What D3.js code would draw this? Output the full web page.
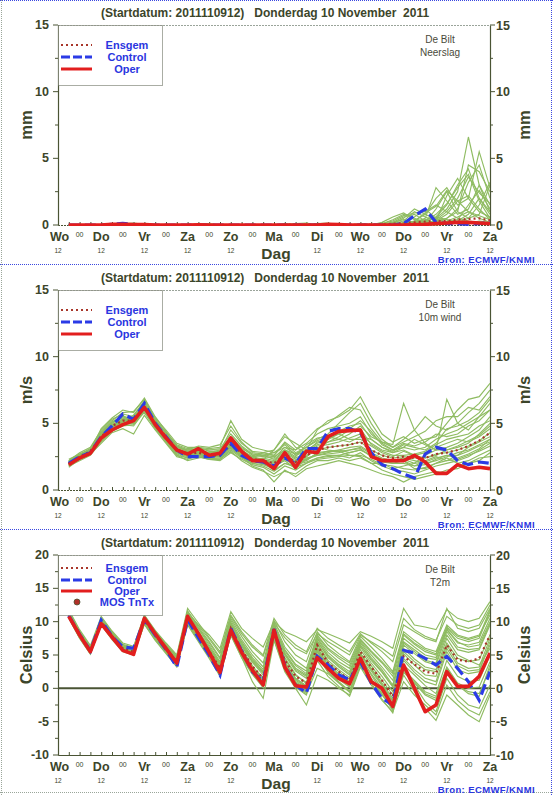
<!DOCTYPE html>
<html><head><meta charset="utf-8">
<script src="https://cdn.jsdelivr.net/npm/d3@7"></script>
<style>body{margin:0;background:#fff}svg{display:block}text{font-family:"Liberation Sans",Arial,sans-serif}</style>
</head><body><svg id="c" width="554" height="795"></svg>
<script>
// ---------- data ----------
const leadHours = [6,12,18,24,30,36,42,48,54,60,66,72,78,84,90,96,102,108,114,120,126,132,138,144,150,156,162,168,174,180,186,192,198,204,210,216,222,228,234,240];
const dayLabels = ["Wo","Do","Vr","Za","Zo","Ma","Di","Wo","Do","Vr","Za"];
const dayHours = [0,24,48,72,96,120,144,168,192,216,240];
const midnightHours = [12,36,60,84,108,132,156,180,204,228];
const titleText = "(Startdatum: 2011110912)   Donderdag 10 November  2011";

const precipTicks = [0,5,10,15];
const windTicks = [0,5,10,15];
const tempTicks = [-10,-5,0,5,10,15,20];

const precipOper = [0,0,0,0,0.05,0.05,0.03,0.03,0,0,0,0,0.02,0,0,0,0,0,0,0,0,0,0,0,0.05,0.03,0,0,0,0,0,0,0.03,0.05,0.1,0.15,0.2,0.2,0.15,0.1];
const precipControl = [0,0,0,0,0.05,0.12,0.05,0,0,0,0,0,0,0,0,0,0,0,0,0,0,0,0,0,0,0,0,0,0,0,0,0.1,0.7,1.2,0.2,0.1,0.1,0.05,0.1,0.2];
const precipMean = [0,0,0,0,0.05,0.05,0.03,0.02,0,0,0,0,0.02,0,0,0,0,0,0,0,0.02,0.03,0.03,0.02,0.03,0.03,0.02,0.02,0.03,0.05,0.1,0.15,0.2,0.25,0.3,0.3,0.4,0.45,0.5,0.35];
const precipMembers = [
 [0,0,0,0,0.1,0.1,0,0,0,0,0,0,0,0,0,0,0,0,0,0,0,0,0,0,0,0,0,0,0,0,0.2,0.6,0.8,0.3,0.5,1.2,2.5,6.6,3.0,1.0],
 [0,0,0,0,0,0.05,0.1,0,0,0,0,0,0,0,0,0,0,0,0,0,0,0,0,0,0,0.1,0,0,0,0,0,0.1,0.3,0.8,2.0,2.8,1.5,2.0,5.5,2.8],
 [0,0,0,0,0,0,0,0,0,0,0,0,0,0,0,0,0,0,0,0,0,0.1,0.15,0,0,0,0,0,0,0.1,0.4,0.8,0.5,0.2,0.6,1.5,3.0,4.2,2.0,0.8],
 [0,0,0,0,0.05,0.1,0.05,0,0,0,0,0,0,0,0,0,0,0,0,0,0,0,0,0,0,0,0,0,0,0,0,0,0.2,0.5,2.8,1.8,0.8,1.2,3.0,1.5],
 [0,0,0,0,0,0,0,0,0,0,0,0,0.05,0.1,0,0,0,0,0,0,0,0,0,0,0,0,0,0,0,0,0.1,0.3,1.0,0.6,0.3,0.5,1.0,4.5,4.0,2.5],
 [0,0,0,0,0,0,0,0,0,0,0,0,0,0,0,0,0,0,0,0,0,0,0,0,0.1,0.1,0,0,0,0,0,0,0,0.1,0.3,0.8,1.8,2.2,1.2,0.4],
 [0,0,0,0,0,0.1,0.15,0.05,0,0,0,0,0,0,0,0,0,0,0,0,0,0,0,0,0,0,0,0,0,0.2,0.6,0.9,0.4,0.2,1.2,2.5,1.0,0.5,1.5,3.2],
 [0,0,0,0,0,0,0,0,0,0,0,0,0,0,0,0,0,0,0,0,0.1,0.05,0,0,0,0,0,0,0,0,0,0.2,0.6,1.2,0.5,0.2,0.3,0.8,2.0,1.0],
 [0,0,0,0,0,0,0,0,0,0,0,0,0,0,0,0,0,0,0,0,0,0,0,0,0,0,0,0.1,0.05,0,0,0,0.1,0.3,0.8,1.6,2.8,3.8,1.8,0.5],
 [0,0,0,0,0.05,0.05,0,0,0,0,0,0,0,0,0,0,0,0,0,0,0,0,0,0,0,0,0,0,0,0,0.2,0.4,0.2,0,0.1,0.3,0.6,1.0,0.5,0.2],
 [0,0,0,0,0,0,0,0,0,0,0,0,0,0,0,0,0,0,0,0,0,0,0,0,0,0,0,0,0,0,0,0,0,0,0.2,0.5,1.2,3.2,4.5,2.0],
 [0,0,0,0,0,0,0,0,0,0,0,0,0,0,0,0,0,0,0,0,0,0,0,0.1,0.15,0,0,0,0,0.1,0.3,0.7,0.9,1.0,1.5,1.0,0.5,0.3,0.2,0.1],
 [0,0,0,0,0,0,0,0,0,0,0,0,0,0,0,0,0,0,0,0,0,0,0,0,0,0,0,0,0,0,0,0,0.1,0.2,0.3,2.2,3.5,2.0,1.0,0.6],
 [0,0,0,0,0,0,0,0,0,0,0,0,0,0,0,0,0,0,0,0,0,0,0,0,0,0,0,0,0,0,0,0.1,0.2,0.4,0.6,0.4,0.2,0.5,0.8,3.0],
 [0,0,0,0,0,0,0,0,0,0,0,0,0,0,0,0,0,0,0,0,0,0,0,0,0,0,0,0,0,0,0,0,0,0,0,0.1,0.2,0.1,0.3,0.2],
 [0,0,0,0,0,0,0,0,0,0,0,0,0,0,0,0,0,0,0,0,0,0,0,0,0,0,0,0,0,0,0.1,0.5,1.2,0.8,0.4,0.2,0.4,1.5,2.6,1.2],
 [0,0,0,0,0,0,0,0,0,0,0,0,0,0,0,0,0,0,0,0,0,0,0,0,0,0,0,0,0,0,0,0,0.3,0.9,1.4,2.6,1.8,1.0,0.7,0.4],
 [0,0,0,0,0,0,0,0,0,0,0,0,0,0,0,0,0,0,0,0,0,0,0,0,0,0,0,0,0,0,0,0,0,0.1,0.4,1.0,2.0,3.6,2.4,1.6]
];

const windOper = [1.9,2.4,2.75,3.9,4.5,4.9,5.2,6.2,4.9,3.9,3.0,2.7,3.1,2.6,2.75,3.9,2.9,2.2,2.2,1.6,2.8,1.7,2.9,2.8,4.0,4.4,4.45,4.5,2.5,2.2,2.2,2.2,2.6,2.1,1.25,1.25,1.9,1.6,1.7,1.6];
const windControl = [2.0,2.5,2.8,4.0,4.8,5.7,5.3,6.5,5.0,4.0,3.0,2.5,2.5,2.5,2.6,3.5,2.6,2.2,2.1,1.8,2.4,2.0,3.1,3.1,4.4,4.6,4.6,4.3,2.8,1.9,1.6,1.2,0.9,2.7,3.2,3.0,2.2,1.9,2.1,2.0];
const windMean = [2.0,2.5,2.9,4.0,4.8,5.2,5.2,6.2,5.0,4.0,3.0,2.7,2.8,2.6,2.6,3.4,2.8,2.3,2.2,2.0,2.6,2.1,2.6,3.0,3.2,3.3,3.4,3.6,3.0,2.6,2.4,2.5,2.4,2.4,2.7,2.8,3.0,3.3,3.7,4.3];
const windMembers = [
 [1.9,2.4,2.8,3.8,4.6,5.0,5.4,6.5,5.2,4.2,3.2,3.0,3.1,3.0,3.0,4.0,3.2,2.6,2.5,2.4,3.2,3.0,3.5,4.2,4.6,4.8,5.0,5.5,4.2,3.5,3.0,3.2,3.0,3.2,3.8,4.2,4.5,5.0,5.5,6.0],
 [2.1,2.6,3.0,4.2,5.0,5.6,5.0,6.0,4.7,3.7,2.7,2.4,2.5,2.3,2.2,2.8,2.3,1.9,1.7,1.2,1.8,1.5,2.0,2.4,2.5,2.6,2.4,2.8,2.2,1.8,1.5,1.4,1.2,1.5,1.8,2.0,2.2,2.5,3.0,3.5],
 [1.8,2.3,2.7,3.5,4.3,4.6,4.2,5.6,4.5,3.5,2.5,2.3,2.6,2.8,3.0,3.6,3.0,2.4,2.8,2.6,3.5,2.8,3.2,3.8,4.2,5.0,5.8,6.5,5.0,3.8,3.2,3.8,4.5,5.5,4.8,4.5,5.0,5.8,6.5,7.5],
 [2.2,2.7,3.1,4.4,5.2,5.8,5.9,6.8,5.4,4.5,3.5,3.2,3.2,2.9,2.8,3.7,2.9,2.2,2.0,1.8,2.2,1.6,2.4,2.6,2.8,3.0,2.8,3.0,2.6,2.2,2.0,2.0,1.8,2.2,2.5,2.2,2.6,3.2,3.6,4.0],
 [2.0,2.5,3.0,4.0,4.9,5.3,5.3,6.3,4.9,3.9,2.9,2.6,2.9,2.7,2.5,3.2,2.6,2.3,2.4,2.2,2.9,2.4,2.8,3.3,3.4,3.6,3.9,4.2,3.5,3.0,2.8,3.0,2.6,2.8,3.2,3.5,3.8,3.6,4.0,4.6],
 [1.9,2.5,2.9,4.1,4.7,5.1,5.6,6.6,5.1,3.8,2.8,2.5,2.7,2.5,2.6,3.5,2.5,1.8,1.5,0.6,1.5,1.0,1.6,1.8,2.0,2.2,2.0,1.8,1.5,1.2,1.0,0.6,1.0,1.2,1.4,1.2,1.8,2.0,2.4,2.5],
 [2.0,2.6,3.1,3.9,4.5,4.9,4.8,5.9,4.8,4.1,3.3,2.9,3.0,2.8,2.9,4.5,3.5,2.9,2.8,3.0,4.0,3.5,3.0,4.5,5.2,5.5,6.0,7.0,5.5,4.2,3.6,4.0,3.5,3.8,4.0,5.0,6.0,6.8,7.0,8.0],
 [2.1,2.4,2.8,4.3,5.1,5.5,5.1,6.1,5.0,3.9,3.1,2.8,2.6,2.4,2.4,3.0,2.4,2.0,1.9,1.6,2.4,2.0,2.2,2.8,2.9,3.0,3.2,3.3,2.8,2.4,2.2,2.4,2.2,2.0,2.2,2.5,2.8,3.0,3.4,3.8],
 [1.8,2.2,2.6,3.6,4.4,4.8,4.9,6.0,5.2,4.3,3.4,3.1,3.2,3.1,3.2,5.2,3.8,3.2,3.0,2.8,3.4,2.6,2.9,3.4,3.6,3.8,4.2,4.8,4.0,3.6,3.4,6.5,4.5,3.5,3.0,3.2,3.5,4.0,4.5,5.5],
 [2.2,2.8,3.2,4.5,5.3,5.7,5.5,6.4,5.1,4.0,2.9,2.6,2.7,2.4,2.3,3.1,2.5,2.0,1.8,1.4,2.0,1.8,2.5,3.2,3.0,2.9,2.6,2.5,2.0,2.0,1.6,1.8,2.0,2.6,3.0,3.0,3.2,3.5,4.2,5.0],
 [2.0,2.5,2.9,4.0,4.8,5.2,5.2,6.2,5.0,4.0,3.0,2.7,2.8,2.6,2.6,3.4,2.8,2.3,2.2,2.0,2.6,2.1,2.6,3.0,3.2,3.3,3.4,3.6,3.0,2.6,2.4,2.5,2.4,2.4,2.7,2.8,3.0,3.3,3.7,4.3],
 [1.7,2.3,2.8,3.7,4.5,4.9,5.0,6.1,4.6,3.6,2.6,2.2,2.4,2.5,2.7,3.6,3.1,2.7,2.6,2.5,3.0,2.5,3.4,3.9,4.0,3.8,3.6,4.0,3.8,3.2,2.8,3.2,3.8,3.4,3.0,6.8,5.0,4.5,5.5,6.5],
 [2.3,2.7,3.0,4.6,5.4,6.0,5.8,6.9,5.5,4.4,3.3,3.0,3.0,2.7,2.5,3.3,2.7,2.2,2.3,1.9,2.6,2.2,2.3,2.6,2.7,2.8,3.0,3.1,2.5,2.1,2.0,2.2,1.6,1.6,2.0,2.4,2.0,2.2,2.6,3.0],
 [1.9,2.4,2.9,3.9,4.7,5.1,5.1,6.2,4.9,3.9,3.0,2.6,2.8,2.6,2.7,3.8,3.0,2.5,2.3,2.1,2.8,2.3,2.5,3.1,3.6,4.0,4.5,4.6,3.4,2.9,2.6,2.6,2.7,2.9,3.4,3.8,4.0,4.2,4.8,5.2],
 [2.0,2.6,2.9,4.1,4.9,5.2,5.3,6.3,5.0,4.1,3.1,2.8,2.9,2.7,2.6,3.4,2.7,2.4,2.1,2.1,2.4,1.9,2.1,2.4,2.6,2.6,2.8,3.0,2.6,2.3,2.2,2.2,1.8,1.9,2.3,2.6,2.4,2.7,3.1,3.8],
 [2.1,2.5,2.9,4.0,4.8,5.3,5.2,6.2,5.1,4.0,3.0,2.7,2.8,2.6,2.6,3.4,2.8,2.4,2.3,3.0,4.2,3.2,2.8,3.6,3.8,4.2,3.8,3.8,3.3,2.8,2.5,2.9,2.6,2.4,2.6,3.0,3.3,3.7,4.1,4.8],
 [2.0,2.4,2.8,3.9,4.6,5.1,5.6,6.7,5.3,4.3,3.3,3.0,3.3,3.2,3.4,4.8,3.6,2.8,2.7,2.6,3.6,3.0,3.8,4.6,5.0,5.6,6.2,6.0,4.6,3.6,3.2,3.6,4.0,4.4,5.2,5.5,5.5,6.2,6.0,7.0],
 [2.1,2.6,3.0,4.2,5.0,5.4,5.0,5.8,4.6,3.6,2.6,2.4,2.5,2.3,2.3,2.9,2.2,1.7,1.4,1.0,1.4,1.2,1.8,2.2,2.2,2.4,2.2,2.4,2.0,1.5,1.2,1.0,0.8,1.0,1.2,1.5,1.6,2.0,2.2,2.8],
 [1.9,2.5,2.9,4.0,4.8,5.2,5.3,6.3,5.1,4.1,3.1,2.8,2.9,2.8,2.8,3.6,2.9,2.5,2.6,2.8,3.2,2.7,3.0,3.5,3.8,4.4,4.8,5.0,3.8,3.2,2.9,3.4,3.2,3.0,3.5,4.6,4.8,5.2,5.8,6.8],
 [2.0,2.5,2.8,4.1,4.9,5.3,5.4,6.4,5.0,4.0,2.9,2.6,2.7,2.5,2.5,3.3,2.6,2.2,2.0,1.7,2.3,1.8,2.3,2.7,2.9,2.9,3.0,3.2,2.7,2.3,2.1,2.3,2.0,2.1,2.4,2.6,2.6,2.9,3.3,3.6],
 [2.2,2.6,3.1,4.3,5.1,5.5,5.4,6.2,5.3,4.2,3.2,2.9,3.1,3.0,3.1,4.2,3.3,2.7,2.6,2.3,3.0,2.7,3.2,3.7,4.0,4.2,4.6,5.2,4.4,3.4,3.0,3.5,3.3,3.6,4.2,4.0,4.2,4.8,5.2,6.0],
 [1.8,2.3,2.7,3.8,4.6,5.0,5.0,6.0,4.8,3.8,2.8,2.5,2.6,2.4,2.4,3.2,2.5,2.1,2.0,1.5,2.0,1.7,2.0,2.3,2.4,2.5,2.6,2.6,2.3,1.9,1.8,1.6,1.5,1.7,2.0,2.2,2.3,2.6,2.9,3.3]
];

const tempOper = [10.8,8.0,5.5,9.7,7.7,5.7,5.1,10.5,8.2,6.0,3.8,10.8,8.2,5.4,2.4,8.7,5.4,2.7,0.5,8.7,3.2,0.4,0.2,4.6,3.0,1.5,0.7,4.5,1.0,0.0,-2.7,3.5,0.0,-3.5,-2.5,2.5,0.3,0.3,1.8,5.3];
const tempControl = [10.9,8.1,5.6,10.2,7.8,6.2,6.0,10.3,8.0,5.8,3.2,10.3,7.6,5.0,2.0,9.0,5.6,2.5,1.0,8.9,3.4,0.5,-0.7,4.8,3.5,2.0,1.3,4.0,0.8,-1.5,-2.5,5.7,5.3,4.5,3.5,4.8,3.0,1.0,-1.8,2.5];
const tempMean = [11.0,8.0,5.7,10.0,7.8,6.0,5.5,10.3,8.0,6.0,4.0,10.5,8.0,5.6,3.0,9.0,5.8,3.3,1.5,8.5,4.2,1.8,0.8,6.5,3.8,2.5,1.2,5.5,3.2,1.2,-1.2,4.8,3.6,2.5,2.2,6.5,4.3,4.0,4.5,8.0];
const tempMembers = [
 [11.2,8.3,5.9,10.2,8.0,6.2,5.8,10.6,8.3,6.3,4.3,10.9,8.4,6.0,3.5,9.6,6.3,3.9,2.0,9.2,5.0,2.6,1.5,7.5,5.0,3.6,2.5,6.8,4.6,2.8,0.5,7.0,5.8,4.6,4.3,8.8,6.8,6.5,6.9,10.5],
 [10.8,7.7,5.4,9.8,7.5,5.7,5.1,9.9,7.6,5.6,3.5,10.0,7.5,5.0,2.3,8.3,5.0,2.5,0.6,7.6,3.3,0.8,-0.3,5.1,2.5,1.0,-0.4,3.8,1.5,-0.8,-3.3,2.4,0.8,-1.0,-1.8,2.5,0.4,-0.5,-0.8,3.0],
 [11.5,8.5,6.2,10.5,8.4,6.5,6.0,10.8,8.6,6.6,4.8,11.6,9.2,7.0,4.6,10.5,7.8,5.5,3.8,10.2,7.0,5.0,4.0,8.5,6.5,5.2,4.0,7.8,6.2,4.5,2.5,8.5,7.2,6.0,5.5,9.5,8.0,7.5,8.0,11.0],
 [10.6,7.6,5.2,9.5,7.3,5.5,5.0,9.6,7.2,5.2,3.2,9.5,7.0,4.5,1.8,8.0,4.7,1.0,-1.5,7.2,2.5,0.0,-2.5,2.0,1.2,0.0,-1.0,3.5,0.8,-1.6,-3.7,3.0,0.5,-2.0,-3.5,1.5,-1.0,-2.5,-3.0,0.5],
 [11.8,8.8,6.4,10.8,8.6,6.8,6.3,11.0,8.7,6.8,5.0,12.0,9.8,7.6,5.5,11.0,8.5,6.5,5.0,10.5,8.0,6.5,5.5,9.0,7.5,6.5,5.5,8.2,6.8,5.5,4.0,9.5,8.5,7.5,7.0,12.0,9.0,8.5,9.0,12.0],
 [10.9,7.9,5.6,10.1,7.8,6.0,5.4,10.2,7.9,5.9,3.9,10.6,8.1,5.8,3.2,9.3,6.0,3.4,1.4,8.9,4.6,2.1,0.7,6.8,4.2,2.8,1.6,6.2,3.8,1.8,-0.5,6.0,4.4,3.2,2.8,7.5,5.0,4.2,3.5,6.0],
 [11.1,8.1,5.8,9.9,7.7,5.9,5.6,10.4,8.1,6.1,4.1,10.3,7.8,5.4,2.7,8.8,5.5,3.0,1.0,8.2,3.8,1.2,0.2,5.8,3.2,1.9,0.8,5.0,2.6,0.4,-2.0,4.2,2.4,1.0,0.5,5.5,2.8,2.2,2.5,7.0],
 [11.3,8.4,6.0,10.3,8.1,6.3,5.9,10.7,8.4,6.4,4.5,11.2,8.9,6.5,4.0,9.9,7.0,4.6,2.8,9.6,5.8,3.6,2.6,7.8,5.8,4.5,3.4,7.2,5.4,3.8,1.8,8.0,6.6,5.5,5.0,9.0,7.5,7.0,7.5,11.5],
 [10.7,7.8,5.5,9.7,7.6,5.8,5.2,10.0,7.7,5.7,3.7,10.2,7.6,5.2,2.5,8.6,5.2,2.7,0.8,7.9,3.5,0.9,-0.5,5.5,2.8,1.3,0.2,4.6,2.2,0.0,-2.5,3.5,2.0,0.4,-0.8,4.2,1.8,1.0,1.2,5.0],
 [11.0,8.2,5.9,10.4,8.2,6.4,5.7,10.5,8.2,6.2,4.2,10.8,8.3,5.9,3.4,9.4,6.4,4.0,2.3,9.0,5.3,3.0,2.0,7.2,4.6,3.2,2.0,6.5,4.2,2.4,0.2,6.5,5.2,4.0,3.5,8.0,5.8,5.4,5.8,9.5],
 [11.4,8.0,5.5,10.0,7.9,6.1,5.6,10.1,7.8,5.8,3.8,10.4,7.9,5.5,2.9,8.9,5.6,3.1,1.2,8.4,4.0,1.5,0.4,6.2,3.5,2.2,1.0,5.2,3.0,0.8,-1.5,5.2,3.5,2.0,1.8,6.5,3.8,3.0,3.2,7.5],
 [10.5,7.5,5.1,9.6,7.4,5.6,5.0,9.8,7.4,5.4,3.4,9.8,7.3,4.8,2.0,8.1,4.8,2.2,0.2,7.4,3.0,0.4,-0.8,3.0,2.2,0.8,-0.6,4.0,1.2,-1.0,-3.0,2.8,1.2,-0.5,-1.2,3.2,0.8,0.0,0.2,4.0],
 [11.6,8.6,6.1,10.6,8.5,6.6,6.1,10.9,8.5,6.5,4.6,11.4,9.5,8.0,6.0,11.5,9.0,7.5,6.2,10.0,8.5,7.8,7.0,8.8,8.2,7.5,6.8,8.5,7.8,7.0,6.0,12.0,9.5,9.2,8.8,11.8,10.5,10.0,10.5,13.0],
 [11.0,7.9,5.7,10.2,7.9,6.1,5.5,10.3,8.0,6.0,3.9,10.7,8.2,5.7,3.0,9.1,5.9,3.2,1.6,8.6,4.4,1.9,0.9,6.6,3.9,2.5,1.3,5.8,3.4,1.2,-1.0,5.5,4.0,2.8,2.5,6.8,4.5,4.0,4.3,8.0],
 [10.8,7.8,5.4,9.9,7.6,5.8,5.3,10.1,7.9,5.9,3.6,10.1,7.7,5.3,2.6,8.7,5.4,2.9,0.9,8.0,3.6,1.0,0.0,5.6,3.0,1.5,0.3,4.8,2.0,-0.5,-3.0,2.0,-0.5,-3.0,-4.8,-1.0,-2.5,-4.0,-5.0,-1.0],
 [11.2,8.2,5.8,10.1,8.0,6.2,5.7,10.5,8.2,6.2,4.4,11.0,8.6,6.2,3.7,9.8,6.8,4.4,2.5,9.4,5.6,3.4,2.2,7.6,5.4,4.0,3.0,7.0,5.0,3.2,1.2,7.5,6.2,5.0,4.6,8.8,7.0,6.2,6.5,10.0],
 [11.3,8.2,5.8,10.3,8.1,6.3,5.9,10.6,8.4,6.4,4.4,11.3,9.0,6.8,4.4,10.2,7.3,5.0,3.2,9.8,6.2,4.2,3.0,8.0,6.0,4.8,3.8,7.4,5.6,4.0,2.2,8.2,6.8,5.8,5.2,9.2,7.8,7.3,7.8,11.8],
 [10.7,7.7,5.3,9.7,7.5,5.7,5.2,9.9,7.5,5.5,3.4,9.9,7.4,4.9,2.2,8.2,4.9,2.4,0.4,7.5,3.1,0.5,-0.6,4.9,2.4,0.9,-0.5,4.2,1.4,-0.9,-3.2,2.6,1.0,-0.8,-1.5,3.0,0.5,-0.8,-1.2,3.5],
 [11.1,8.0,5.6,10.0,7.8,6.0,5.6,10.2,7.9,5.9,4.0,10.6,8.4,6.2,3.8,9.5,6.6,4.2,2.4,9.3,5.2,2.8,1.8,7.0,4.8,3.4,2.2,6.4,4.4,2.5,0.3,6.8,5.5,4.2,3.8,8.5,6.2,5.8,6.0,9.8],
 [10.9,8.1,5.7,10.1,7.9,6.1,5.5,10.3,7.8,5.8,3.8,10.4,7.7,5.3,2.6,8.8,5.4,2.9,1.1,8.3,3.9,1.4,0.3,6.0,3.4,2.0,0.9,5.3,2.8,0.6,-1.8,4.5,2.8,1.5,1.0,6.0,3.4,2.6,2.8,6.5],
 [11.2,8.3,6.0,10.4,8.3,6.4,6.0,10.7,8.5,6.5,4.7,11.5,9.4,7.4,5.2,10.8,8.2,6.2,4.8,9.8,7.6,6.0,5.2,8.2,7.0,6.0,5.0,8.0,7.0,6.0,4.8,10.5,8.8,7.8,7.2,10.8,9.5,9.0,9.5,12.5],
 [10.6,7.6,5.3,9.6,7.4,5.6,5.1,9.7,7.3,5.3,3.3,9.7,7.2,4.7,2.0,8.0,4.6,2.1,0.1,7.3,2.8,0.2,-1.0,4.2,1.8,0.3,-1.2,3.2,0.5,-1.8,-3.5,1.0,-1.0,-2.5,-4.0,0.5,-1.8,-3.2,-4.0,-0.5]
];

// ---------- drawing ----------
const svg = d3.select("#c");
const W = 554, H = 795;
const X0 = 58, X1 = 490;
const olive = "#4a5434", txt = "#3c452a", blueTxt = "#2a36e0";
const x = d3.scaleLinear().domain([0,240]).range([X0,X1]);

const panels = [
  {off:0, domain:[0,15], ticks:precipTicks, unit:"mm", place:"Neerslag", members:precipMembers, mean:precipMean, control:precipControl, oper:precipOper, mos:false},
  {off:265, domain:[0,15], ticks:windTicks, unit:"m/s", place:"10m wind", members:windMembers, mean:windMean, control:windControl, oper:windOper, mos:false},
  {off:530, domain:[-10,20], ticks:tempTicks, unit:"Celsius", place:"T2m", members:tempMembers, mean:tempMean, control:tempControl, oper:tempOper, mos:true}
];

// outer frame
svg.append("line").attr("x1",1.5).attr("x2",1.5).attr("y1",0).attr("y2",H).attr("stroke","#9aa69a").attr("stroke-dasharray","1,1");
svg.append("line").attr("x1",W-2.5).attr("x2",W-2.5).attr("y1",0).attr("y2",H).attr("stroke","#3a48e0").attr("stroke-dasharray","1,1");
svg.append("line").attr("x1",0).attr("x2",W).attr("y1",H-2.5).attr("y2",H-2.5).attr("stroke","#9aa69a").attr("stroke-dasharray","1,1");
[0.5,264.5,529.5].forEach(yy=>{
  svg.append("line").attr("x1",0).attr("x2",W).attr("y1",yy).attr("y2",yy).attr("stroke","#3a48e0").attr("stroke-dasharray","1,1");
});

panels.forEach((p,pi)=>{
  const g = svg.append("g");
  const top = p.off+25, bot = p.off+225;
  const y = d3.scaleLinear().domain(p.domain).range([bot,top]);

  // title
  g.append("text").attr("x",265).attr("y",p.off+17).attr("text-anchor","middle")
    .attr("font-size",12).attr("font-weight","bold").attr("fill",txt)
    .style("white-space","pre").text(titleText);

  // clip
  const cid = "clip"+pi;
  g.append("clipPath").attr("id",cid).append("rect").attr("x",X0).attr("y",top-1).attr("width",X1-X0).attr("height",bot-top+2);

  // top dotted frame
  g.append("line").attr("x1",X0).attr("x2",X1).attr("y1",top+0.5).attr("y2",top+0.5)
    .attr("stroke","#9aa49a").attr("stroke-dasharray","2,1");

  // left & right axes
  const minor = d3.range(p.domain[0], p.domain[1]+0.01, 2.5);
  const gl = g.append("g").attr("transform",`translate(${X0},0)`).call(d3.axisLeft(y).tickValues(minor).tickSize(0).tickFormat(""));
  gl.select(".domain").attr("stroke",olive).attr("stroke-width",1.2);
  const gr = g.append("g").attr("transform",`translate(${X1},0)`).call(d3.axisRight(y).tickValues(minor).tickSize(0).tickFormat(""));
  gr.select(".domain").attr("stroke",olive).attr("stroke-width",1.2);
  minor.forEach(v=>{
    const major = p.ticks.includes(v);
    const len = major ? 5 : 3;
    g.append("line").attr("x1",X0-len).attr("x2",X0).attr("y1",y(v)).attr("y2",y(v)).attr("stroke",olive);
    g.append("line").attr("x1",X1).attr("x2",X1+len).attr("y1",y(v)).attr("y2",y(v)).attr("stroke",olive);
  });
  p.ticks.forEach(v=>{
    g.append("text").attr("x",X0-9).attr("y",y(v)+4).attr("text-anchor","end")
      .attr("font-size",12.5).attr("font-weight","bold").attr("fill",txt).text(v);
    g.append("text").attr("x",X1+6).attr("y",y(v)+4.5).attr("text-anchor","start")
      .attr("font-size",12.5).attr("font-weight","bold").attr("fill",txt).text(v);
  });

  // bottom axis
  const gb = g.append("g").attr("transform",`translate(0,${bot})`)
    .call(d3.axisBottom(x).tickValues([0].concat(leadHours)).tickSize(-3).tickFormat(""));
  gb.select(".domain").attr("stroke",olive).attr("stroke-dasharray", pi===2 ? null : "2,1");
  gb.selectAll(".tick line").attr("stroke",olive);

  // zero line for temperature
  if (p.domain[0] < 0) {
    g.append("line").attr("x1",X0).attr("x2",X1).attr("y1",y(0)).attr("y2",y(0)).attr("stroke",olive).attr("stroke-width",2);
  }

  // axis titles
  [32,530].forEach(xx=>{
    g.append("text").attr("transform",`translate(${xx},${p.off+125}) rotate(-90)`).attr("text-anchor","middle")
      .attr("font-size",16.5).attr("font-weight","bold").attr("fill",txt).text(p.unit);
  });

  // x labels
  dayHours.forEach((h,i)=>{
    g.append("text").attr("x",x(h)+(i===0?1.5:0)).attr("y",p.off+241).attr("text-anchor","middle")
      .attr("font-size",12.5).attr("font-weight","bold").attr("fill",txt).text(dayLabels[i]);
    if (i!==5) g.append("text").attr("x",x(h)).attr("y",p.off+253).attr("text-anchor","middle")
      .attr("font-size",6.5).attr("fill",txt).text("12");
  });
  midnightHours.forEach(h=>{
    g.append("text").attr("x",x(h)).attr("y",p.off+237).attr("text-anchor","middle")
      .attr("font-size",7).attr("fill",txt).text("00");
  });
  g.append("text").attr("x",276).attr("y",p.off+258.5).attr("text-anchor","middle")
    .attr("font-size",15.5).attr("font-weight","bold").attr("fill",txt).text("Dag");
  g.append("text").attr("x",535).attr("y",p.off+263).attr("text-anchor","end")
    .attr("font-size",9.5).attr("font-weight","bold").attr("fill",blueTxt).attr("letter-spacing",0.4).text("Bron: ECMWF/KNMI");

  // place labels
  g.append("text").attr("x",440).attr("y",p.off+43).attr("text-anchor","middle")
    .attr("font-size",10).attr("fill","#4a4a3a").text("De Bilt");
  g.append("text").attr("x",440).attr("y",p.off+56).attr("text-anchor","middle")
    .attr("font-size",10).attr("fill","#4a4a3a").text(p.place);

  // series
  const line = d3.line().x((d,i)=>x(leadHours[i])).y(d=>y(d));
  const series = g.append("g").attr("clip-path",`url(#${cid})`);
  p.members.forEach(m=>{
    series.append("path").attr("d",line(m)).attr("fill","none").attr("stroke","#8fbc62").attr("stroke-width",1.15);
  });
  series.append("path").attr("d",line(p.mean)).attr("fill","none").attr("stroke","#a8362a").attr("stroke-width",2.2).attr("stroke-dasharray","2,3");
  series.append("path").attr("d",line(p.control)).attr("fill","none").attr("stroke","#2b3be6").attr("stroke-width",3.2).attr("stroke-dasharray","11,5");
  series.append("path").attr("d",line(p.oper)).attr("fill","none").attr("stroke","#e21e1e").attr("stroke-width",3.6).attr("stroke-linejoin","round");

  // legend
  const lg = g.append("g");
  lg.append("rect").attr("x",X0+0.5).attr("y",top+0.5).attr("width",104).attr("height",60)
    .attr("fill","#fff").attr("stroke","#555a48").attr("stroke-dasharray","1,1");
  const rows = p.mos ? [13,25,36,47] : [20,32,44];
  const names = ["Ensgem","Control","Oper","MOS TnTx"];
  rows.forEach((r,i)=>{
    const yy = top + r;
    if (i===0) lg.append("line").attr("x1",61).attr("x2",92).attr("y1",yy).attr("y2",yy).attr("stroke","#a8362a").attr("stroke-width",2).attr("stroke-dasharray","2,3");
    if (i===1) lg.append("line").attr("x1",61).attr("x2",92).attr("y1",yy).attr("y2",yy).attr("stroke","#2b3be6").attr("stroke-width",3).attr("stroke-dasharray","9,3");
    if (i===2) lg.append("line").attr("x1",61).attr("x2",92).attr("y1",yy).attr("y2",yy).attr("stroke","#e21e1e").attr("stroke-width",3);
    if (i===3) lg.append("circle").attr("cx",77).attr("cy",yy).attr("r",3).attr("fill","#b03028").attr("stroke","#4a5434").attr("stroke-width",0.8);
    lg.append("text").attr("x",127).attr("y",yy+4).attr("text-anchor","middle")
      .attr("font-size",11).attr("font-weight","bold").attr("fill",blueTxt).text(names[i]);
  });
});
</script>
</body></html>
